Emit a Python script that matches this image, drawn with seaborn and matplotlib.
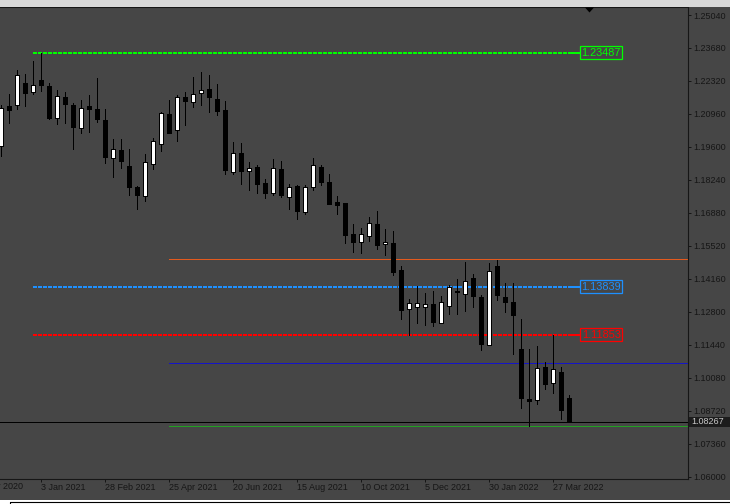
import numpy as np
import pandas as pd
import matplotlib
matplotlib.use("Agg")
import matplotlib.pyplot as plt
import matplotlib.dates as mdates
import matplotlib.transforms as mtransforms
from matplotlib.patches import Rectangle, Polygon
from matplotlib.lines import Line2D
import seaborn as sns

# ---------------- data (EURUSD weekly) ----------------
weeks = pd.date_range("2020-11-29", "2022-04-10", freq="W-SUN")

open_ = [1.1962, 1.2130, 1.2134, 1.2222, 1.2186, 1.2237, 1.2212, 1.2081, 1.2167, 1.2131,
         1.2039, 1.2127, 1.2115, 1.2070, 1.1916, 1.1949, 1.1880, 1.1793, 1.1759, 1.1891,
         1.1973, 1.2094, 1.2031, 1.2164, 1.2146, 1.2184, 1.2200, 1.2156, 1.2111, 1.1858,
         1.1936, 1.1862, 1.1876, 1.1810, 1.1770, 1.1867, 1.1753, 1.1797, 1.1691, 1.1796,
         1.1878, 1.1814, 1.1731, 1.1727, 1.1599, 1.1569, 1.1594, 1.1641, 1.1560, 1.1562,
         1.1451, 1.1292, 1.1301, 1.1301, 1.1311, 1.1235, 1.1305, 1.1367, 1.1355, 1.1418,
         1.1340, 1.1143, 1.1467, 1.1340, 1.1319, 1.1125, 1.0919, 1.0918, 1.1054, 1.0988,
         1.1030, 1.0924]
high = [1.2131, 1.2179, 1.2276, 1.2259, 1.2313, 1.23487, 1.2225, 1.2193, 1.2185, 1.2140,
        1.2153, 1.2173, 1.2243, 1.2115, 1.1991, 1.1991, 1.1950, 1.1797, 1.1929, 1.1995,
        1.2104, 1.2152, 1.2173, 1.2185, 1.2247, 1.2267, 1.2255, 1.2218, 1.2148, 1.1979,
        1.1977, 1.1896, 1.1884, 1.1829, 1.1909, 1.1900, 1.1807, 1.1803, 1.1803, 1.1913,
        1.1887, 1.1847, 1.1756, 1.1728, 1.1641, 1.1624, 1.1670, 1.1694, 1.1620, 1.1612,
        1.1467, 1.1334, 1.1385, 1.1357, 1.1364, 1.1344, 1.1390, 1.1415, 1.1484, 1.1434,
        1.1348, 1.1483, 1.1492, 1.1397, 1.1397, 1.1249, 1.1125, 1.1140, 1.1072, 1.11853,
        1.1052, 1.0937]
low = [1.1922, 1.2059, 1.2116, 1.2129, 1.2178, 1.2190, 1.2075, 1.2054, 1.2059, 1.1951,
       1.2017, 1.2021, 1.2063, 1.1894, 1.1836, 1.1873, 1.1762, 1.1704, 1.1737, 1.1869,
       1.1943, 1.2016, 1.1984, 1.2050, 1.2124, 1.2131, 1.2104, 1.2090, 1.1850, 1.1850,
       1.1808, 1.1781, 1.1770, 1.1749, 1.1762, 1.1753, 1.1702, 1.1661, 1.1683, 1.1781,
       1.1801, 1.1723, 1.1683, 1.1564, 1.1527, 1.1522, 1.1572, 1.1540, 1.1514, 1.1433,
       1.1249, 1.11853, 1.1232, 1.1226, 1.1221, 1.1234, 1.1272, 1.1270, 1.1283, 1.1300,
       1.1122, 1.1142, 1.1329, 1.1279, 1.1106, 1.0883, 1.0809, 1.0900, 1.0962, 1.0945,
       1.0838, 1.0826]
close = [1.2122, 1.2112, 1.2258, 1.2182, 1.2217, 1.2215, 1.2079, 1.2171, 1.2138, 1.2042,
         1.2122, 1.2116, 1.2075, 1.1918, 1.1953, 1.1902, 1.1795, 1.1762, 1.1899, 1.1986,
         1.2098, 1.2017, 1.2167, 1.2149, 1.2179, 1.2193, 1.2166, 1.2108, 1.1865, 1.1936,
         1.1862, 1.1874, 1.1807, 1.1770, 1.1874, 1.1762, 1.1796, 1.1696, 1.1796, 1.1887,
         1.1815, 1.1724, 1.1720, 1.1597, 1.1568, 1.1602, 1.1648, 1.1555, 1.1569, 1.1444,
         1.1286, 1.1318, 1.1318, 1.1313, 1.1238, 1.1322, 1.13839, 1.1360, 1.1408, 1.1345,
         1.1147, 1.1450, 1.1349, 1.1320, 1.1267, 1.0924, 1.0912, 1.1050, 1.0982, 1.1043,
         1.0875, 1.08267]

dashed_levels = [1.23487, 1.13839, 1.11853]
dashed_colors = ["#00FF00", "#1E90FF", "#FF0000"]
solid_levels = [1.1498, 1.1069, 1.0809]
solid_colors = ["#E35A1E", "#1414C8", "#22A022"]
bid = 1.08267

y_ticks = [1.25040, 1.23680, 1.22320, 1.20960, 1.19600, 1.18240, 1.16880, 1.15520,
           1.14160, 1.12800, 1.11440, 1.10080, 1.08720, 1.07360, 1.06000]
x_tick_dates = ["2021-01-03", "2021-02-28", "2021-04-25", "2021-06-20", "2021-08-15",
                "2021-10-10", "2021-12-05", "2022-01-30", "2022-03-27"]
x_tick_labels = ["3 Jan 2021", "28 Feb 2021", "25 Apr 2021", "20 Jun 2021", "15 Aug 2021",
                 "10 Oct 2021", "5 Dec 2021", "30 Jan 2022", "27 Mar 2022"]
x_prev_date, x_prev_label = "2020-11-08", "8 Nov 2020"

# ---------------- styling ----------------
BG = "#464646"
FG = "#161616"
LW = 0.72  # one device pixel at 100 dpi
sns.set_theme(style="dark", rc={"axes.facecolor": BG, "figure.facecolor": BG,
                                "axes.edgecolor": FG, "text.color": FG})
plt.rcParams["font.family"] = ["Liberation Sans", "DejaVu Sans"]

W, H = 730, 504
fig = plt.figure(figsize=(W / 100, H / 100), dpi=100, facecolor=BG)
ax_left, ax_right, ax_top, ax_bot = 0.0, 687.7, 7.0, 479.0
ax = fig.add_axes([ax_left / W, (H - ax_bot) / H, (ax_right - ax_left) / W, (ax_bot - ax_top) / H])
ax.set_facecolor(BG)

ref = mdates.date2num(pd.Timestamp("2021-01-03"))
def xd(px):
    # pixel column -> date number (8 px per week, 3 Jan 2021 at px 41.3)
    return ref + (px - 41.3) * 7.0 / 8.0

ax.set_xlim(xd(ax_left), xd(ax_right))
ax.set_ylim(1.05906, 1.25370)

df = pd.DataFrame({"date": weeks, "open": open_, "high": high, "low": low, "close": close})
n = len(df)

# wicks with seaborn lineplot (one unit per candle)
long = pd.DataFrame({
    "date": np.repeat(df["date"].values, 2),
    "price": np.column_stack([df["low"], df["high"]]).ravel(),
    "cid": np.repeat(np.arange(n), 2),
})
sns.lineplot(data=long, x="date", y="price", units="cid", estimator=None, sort=False,
             color="black", linewidth=LW, ax=ax, legend=False, zorder=3, antialiased=False)

# bodies
bull = df["close"] >= df["open"]
bottoms = np.minimum(df["open"], df["close"])
heights = np.maximum(np.abs(df["close"] - df["open"]), 0.00005)
ax.bar(df["date"], heights, bottom=bottoms, width=3.4,
       color=np.where(bull, "white", "black"), edgecolor="black", linewidth=LW,
       zorder=4, antialiased=False)

# solid horizontal lines (from 25 Apr 2021 to right edge)
for lv, c in zip(solid_levels, solid_colors):
    ax.plot([mdates.date2num(pd.Timestamp("2021-04-25")), xd(ax_right)], [lv, lv],
            color=c, linewidth=LW, zorder=2, solid_capstyle="butt", antialiased=False)

# dashed levels with labels
for lv, c in zip(dashed_levels, dashed_colors):
    ax.hlines(lv, mdates.date2num(weeks[4]), xd(570), colors=c, linewidth=2 * LW,
              linestyles=(0, (1.5, 1.0)), zorder=2, antialiased=False)
    ax.hlines(lv, xd(570), xd(581), colors=c, linewidth=1.6 * LW, zorder=2, antialiased=False)
    ax.text(xd(601.2), lv, f"{lv:.5f}", color=c, fontsize=7.8, ha="center", va="center",
            zorder=6, bbox=dict(boxstyle="square,pad=0.12", facecolor=BG, edgecolor=c, linewidth=0.9))

# bid line
ax.axhline(bid, color="black", linewidth=LW, zorder=2, antialiased=False)

# axes cosmetics
ax.set_xlabel("")
ax.set_ylabel("")
ax.grid(False)
ax.spines["left"].set_visible(False)
for s in ["right", "bottom", "top"]:
    ax.spines[s].set_visible(True)
    ax.spines[s].set_color(FG)
    ax.spines[s].set_linewidth(0.8)

ax.yaxis.tick_right()
ax.set_yticks(y_ticks)
ax.set_yticklabels([f"{v:.5f}" for v in y_ticks])
ax.tick_params(axis="y", which="major", right=True, left=False, length=2.4, width=LW,
               color=FG, pad=1.6, labelsize=6.5, labelcolor=FG)

ax.set_xticks([mdates.date2num(pd.Timestamp(d)) for d in x_tick_dates])
ax.set_xticklabels(x_tick_labels)
ax.tick_params(axis="x", which="major", bottom=True, length=2.4, width=LW, color=FG,
               pad=0.8, labelsize=6.5, labelcolor=FG)
for lbl in ax.get_xticklabels():
    lbl.set_ha("left")

# clipped label of the previous date tick (cut by the window edge, as in the source)
blend = mtransforms.blended_transform_factory(ax.transData, ax.transAxes)
ax.text(mdates.date2num(pd.Timestamp(x_prev_date)), -3.2 / (ax_bot - ax_top),
        x_prev_label, transform=blend, ha="left", va="top", fontsize=6.5, color=FG, clip_on=False)

# bid label box on the price axis
yblend = mtransforms.blended_transform_factory(ax.transAxes, ax.transData)
px_per_unit = (ax_bot - ax_top) / (1.25370 - 1.05906)
axw = ax_right - ax_left
ax.add_patch(Rectangle((689 / axw, bid - 4.8 / px_per_unit), 42 / axw, 9.6 / px_per_unit,
                       transform=yblend, facecolor="#1C1C1C", edgecolor="none",
                       clip_on=False, zorder=5))
ax.text(691 / axw, bid, f"{bid:.5f}", transform=yblend, ha="left", va="center",
        fontsize=6.5, color="#C8C8C8", clip_on=False, zorder=6)

# window chrome: top strip, shift marker, bottom strip
fig.patches.append(Rectangle((0, (H - 6.5) / H), 1, 6.5 / H, transform=fig.transFigure,
                             facecolor="#D8D8D8", edgecolor="none", zorder=0))
fig.patches.append(Polygon([[585 / W, (H - 7.5) / H], [594 / W, (H - 7.5) / H],
                            [589.5 / W, (H - 12.5) / H]], closed=True,
                           transform=fig.transFigure, facecolor="black", edgecolor="none", zorder=10))
fig.patches.append(Rectangle((0, 0), 1, 4.5 / H, transform=fig.transFigure,
                             facecolor="white", edgecolor="none", zorder=0))
fig.lines.append(Line2D([10 / W, 1], [1.8 / H, 1.8 / H], transform=fig.transFigure,
                        color="black", linewidth=0.8))
fig.lines.append(Line2D([10 / W, 10 / W], [0, 1.8 / H], transform=fig.transFigure,
                        color="black", linewidth=0.8))

fig.savefig("out.png", dpi=100, facecolor=BG)
